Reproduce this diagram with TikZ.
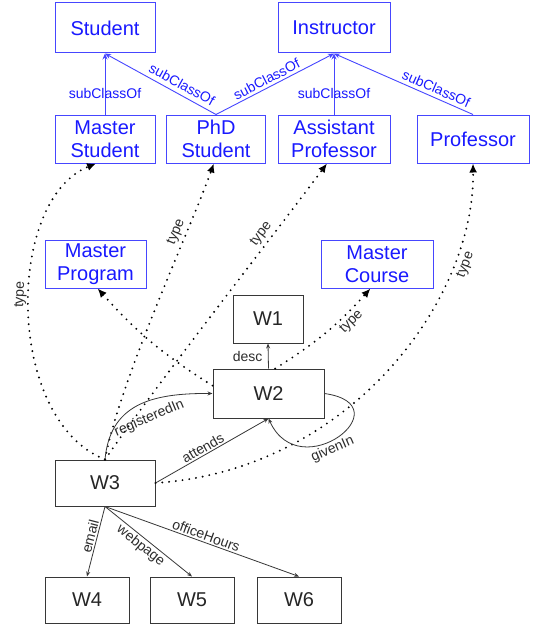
\documentclass[tikz,border=0pt]{standalone}
\usepackage{fontspec}
\setmainfont{Liberation Sans}
\usetikzlibrary{arrows.meta,calc}
\definecolor{bluebox}{RGB}{70,70,255}
\definecolor{bluetext}{RGB}{25,25,255}
\definecolor{darkline}{RGB}{55,55,55}
\definecolor{lbltext}{RGB}{45,45,45}
\begin{document}
\begin{tikzpicture}[x=1pt,y=-1pt,
  cls/.style={draw=bluebox, line width=1pt, text=bluetext, align=center, font=\fontsize{20}{23}\selectfont, inner sep=0pt},
  inst/.style={draw=darkline, line width=1pt, text=black!85, font=\fontsize{20}{23}\selectfont, inner sep=0pt},
  sub/.style={draw=bluebox, line width=0.9pt, >={Stealth[length=6pt,width=5pt]}},
  rel/.style={draw=darkline, line width=0.8pt, >={Stealth[length=5pt,width=4pt]}},
  typ/.style={draw=black, line width=2.1pt, line cap=round, dash pattern=on 0pt off 6.8pt, -{Latex[length=9pt,width=8pt]}},
  lbl/.style={font=\fontsize{14}{16}\selectfont, text=lbltext, inner sep=1.5pt},
  blbl/.style={font=\fontsize{14}{16}\selectfont, text=bluetext, inner sep=1.5pt},
]
\useasboundingbox[fill=white] (0,0) rectangle (536,626);

% class boxes
\node[cls, minimum width=100pt, minimum height=50pt] (student) at (105,28) {Student};
\node[cls, minimum width=112pt, minimum height=50pt] (instructor) at (334,28) {Instructor};
\node[cls, minimum width=100pt, minimum height=48pt] (mstudent) at (105,139) {Master\\Student};
\node[cls, minimum width=99pt, minimum height=48pt] (phd) at (216,139) {PhD\\Student};
\node[cls, minimum width=112pt, minimum height=48pt] (asst) at (334,139) {Assistant\\Professor};
\node[cls, minimum width=112pt, minimum height=48pt] (prof) at (473,139) {Professor};
\node[cls, minimum width=101pt, minimum height=48pt] (mprogram) at (95.5,264) {Master\\Program};
\node[cls, minimum width=112pt, minimum height=48pt] (mcourse) at (377,264) {Master\\Course};

% instance boxes
\node[inst, minimum width=70pt, minimum height=48pt] (w1) at (268,319) {W1};
\node[inst, minimum width=111pt, minimum height=49pt] (w2) at (268.5,393.5) {W2};
\node[inst, minimum width=100pt, minimum height=46pt] (w3) at (105,483) {W3};
\node[inst, minimum width=84pt, minimum height=46pt] (w4) at (87,600) {W4};
\node[inst, minimum width=84pt, minimum height=46pt] (w5) at (192,600) {W5};
\node[inst, minimum width=84pt, minimum height=46pt] (w6) at (299,600) {W6};

% subClassOf
\draw[sub,->] (mstudent.north) -- node[blbl, pos=0.35] {subClassOf} (student.south);
\draw[sub,<-] (student.south) -- node[blbl, pos=0.65, sloped, above=3pt] {subClassOf} (phd.north);
\draw[sub,->] (phd.north) -- node[blbl, pos=0.46, sloped, above=1pt] {subClassOf} (instructor.south);
\draw[sub,->] (asst.north) -- node[blbl, pos=0.35] {subClassOf} (instructor.south);
\draw[sub,<-] (instructor.south) -- node[blbl, pos=0.71, sloped, above=2pt] {subClassOf} (prof.north);

% type edges
\draw[typ] (w3.north) .. controls (5,420) and (5,200) .. node[lbl, pos=0.54, sloped, above] {type} (mstudent.250);
\draw[typ] (w3.north) .. controls (120,380) and (190,230) .. node[lbl, pos=0.72, sloped, above=1pt] {type} (phd.265);
\draw[typ] (w3.north) .. controls (160,380) and (270,240) .. node[lbl, pos=0.72, sloped, above=1pt] {type} (asst.254);
\draw[typ] (w3.east) .. controls (350,470) and (475,300) .. node[lbl, pos=0.77, sloped, below=3pt] {type} (prof.south);
\draw[typ] (w2.172) to[bend left=8] (mprogram.275);
\draw[typ] (w2.75) to[bend right=8] node[lbl, pos=0.72, sloped, below=1pt] {type} (mcourse.255);

% relations
\draw[rel,->] (w2.north) -- node[lbl, left=4pt, pos=0.5] {desc} (w1.south);
\draw[rel,->] (w3.north) .. controls (110,405) and (150,393) .. node[lbl, pos=0.55, sloped, below=8pt] {registeredIn} (w2.west);
\draw[rel,->] (w3.east) -- node[lbl, pos=0.45, sloped, above] {attends} (w2.south);
\draw[rel,->] (w2.east) .. controls (405,405) and (300,488) .. node[lbl, pos=0.57, sloped, below] {givenIn} (w2.south);
\draw[rel,->] (w3.south) -- node[lbl, pos=0.45, sloped, above] {email} (w4.north);
\draw[rel,->] (w3.south) -- node[lbl, pos=0.47, sloped, below] {webpage} (w5.north);
\draw[rel,->] (w3.south) -- node[lbl, pos=0.51, sloped, above] {officeHours} (w6.north);
\end{tikzpicture}
\end{document}
